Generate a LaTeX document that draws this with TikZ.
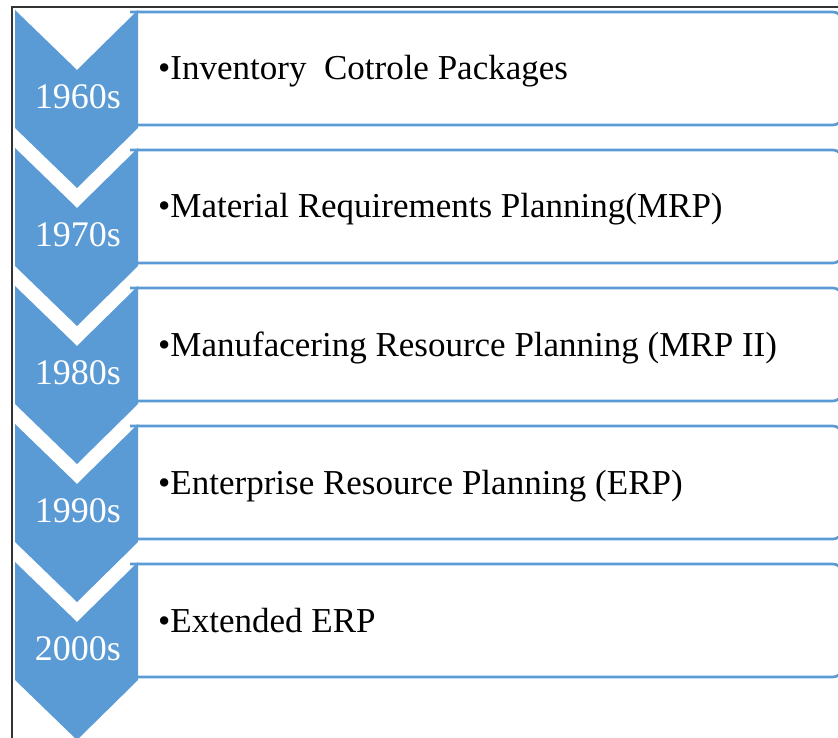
\documentclass[tikz,border=0pt]{standalone}
\usepackage{fontspec}
\setmainfont{Liberation Serif}
\usepackage{tikz}
\definecolor{chevblue}{RGB}{91,155,213}

\begin{document}
\begin{tikzpicture}[
  x=1pt, y=-1pt,
  chev/.style={fill=chevblue},
  itembox/.style={draw=chevblue, line width=2.6pt, fill=white, rounded corners=9pt},
  itemtext/.style={anchor=base west, inner sep=0pt, font=\fontsize{35}{40}\selectfont},
  yeartext/.style={text=white, inner sep=0pt, font=\fontsize{36}{40}\selectfont},
  frameline/.style={draw=black!80, line width=1.8pt}
]
  \useasboundingbox (0,0) rectangle (838,738);

  % outer frame (left and top only)
  \draw[frameline] (12,740) -- (12,7) -- (840,7);

  % one chevron + box per decade
  \foreach \yr/\lbl [count=\i from 0] in {
      1960s/{Inventory\ \ Cotrole Packages},
      1970s/{Material Requirements Planning(MRP)},
      1980s/{Manufacering Resource Planning (MRP II)},
      1990s/{Enterprise Resource Planning (ERP)},
      2000s/{Extended ERP}}
  {
    \pgfmathsetmacro{\top}{10+138*\i}
    \pgfmathsetmacro{\bot}{\top+118}
    % box first, chevron hides its left end
    \draw[itembox] (130,\top+2) -- (842,\top+2) -- (842,\bot-3) -- (130,\bot-3);
    \fill[chev] (15,\top) -- (77,\top+60) -- (138,\top) -- (138,\bot)
      -- (77,\bot+60) -- (15,\bot) -- cycle;
    \node[yeartext] (yr\i) at (78,\top+87) {\yr};
    \node[itemtext] (txt\i) at (158,\top+70) {•\lbl};
  }
\end{tikzpicture}
\end{document}
